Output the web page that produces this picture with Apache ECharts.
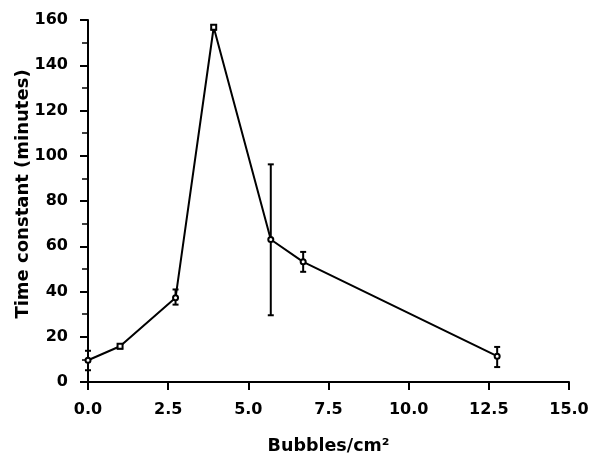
<!DOCTYPE html>
<html>
<head>
<meta charset="utf-8">
<script src="https://cdn.jsdelivr.net/npm/echarts@6/dist/echarts.min.js"></script>
<style>html,body{margin:0;padding:0;background:#fff}#c{width:590px;height:455px}</style>
</head>
<body>
<div id="c"></div>
<script>
var xValues = [0, 1.0, 2.73, 3.92, 5.70, 6.71, 12.76];
var yValues = [9.6, 15.8, 37.2, 156.8, 63, 53.1, 11.4];
var errLow  = [5.2, 14.8, 34.2, 155.8, 29.5, 48.7, 6.6];
var errHigh = [13.8, 16.8, 40.9, 157.8, 96.2, 57.5, 15.5];
var symbols = ['emptyCircle', 'emptyRect', 'emptyCircle', 'emptyRect', 'emptyCircle', 'emptyCircle', 'emptyCircle'];
var xTickLabels = ['0.0', '2.5', '5.0', '7.5', '10.0', '12.5', '15.0'];

var chart = echarts.init(document.getElementById('c'));
var lineData = xValues.map(function (x, i) {
  return { value: [x, yValues[i]], symbol: symbols[i] };
});
var errData = xValues.map(function (x, i) { return [x, errLow[i], errHigh[i]]; });
var labelFont = { fontFamily: 'DejaVu Sans', fontWeight: 'bold', fontSize: 16, color: '#000' };

chart.setOption({
  animation: false,
  backgroundColor: '#fff',
  grid: { left: 88, right: 21, top: 20, bottom: 73, containLabel: false, outerBoundsMode: 'none' },
  xAxis: {
    type: 'value', min: 0, max: 15, interval: 2.5,
    name: 'Bubbles/cm²', nameLocation: 'middle', nameGap: 55, nameMoveOverlap: false,
    nameTextStyle: { fontFamily: 'DejaVu Sans', fontWeight: 'bold', fontSize: 17.5, color: '#000' },
    axisLine: { show: true, lineStyle: { color: '#000', width: 2 } },
    axisTick: { show: true, inside: false, length: 8, lineStyle: { color: '#000', width: 2 } },
    axisLabel: Object.assign({ margin: 20, formatter: function (v) {
      var idx = Math.round(v / 2.5); return xTickLabels[idx] !== undefined ? xTickLabels[idx] : v.toFixed(1);
    } }, labelFont),
    splitLine: { show: false }
  },
  yAxis: {
    type: 'value', min: 0, max: 160, interval: 20,
    name: 'Time constant (minutes)', nameLocation: 'middle', nameGap: 56, nameMoveOverlap: false,
    nameTextStyle: { fontFamily: 'DejaVu Sans', fontWeight: 'bold', fontSize: 18, color: '#000', padding: [0, 0, 0, 14] },
    axisLine: { show: true, lineStyle: { color: '#000', width: 2 } },
    axisTick: { show: true, inside: false, length: 8, lineStyle: { color: '#000', width: 2 } },
    minorTick: { show: true, splitNumber: 2, length: 6, lineStyle: { color: '#000', width: 1.5 } },
    axisLabel: Object.assign({ margin: 20 }, labelFont),
    splitLine: { show: false }
  },
  series: [
    {
      type: 'line', data: lineData, symbolSize: 5, clip: false,
      lineStyle: { color: '#000', width: 2 },
      itemStyle: { color: '#000', borderColor: '#000', borderWidth: 1.5 },
      z: 3
    },
    {
      type: 'custom', data: errData, clip: false, z: 2,
      renderItem: function (params, api) {
        var x = api.value(0);
        var lo = api.coord([x, api.value(1)]);
        var hi = api.coord([x, api.value(2)]);
        var w = 3;
        var st = { stroke: '#000', lineWidth: 2 };
        return { type: 'group', children: [
          { type: 'line', shape: { x1: lo[0], y1: lo[1], x2: hi[0], y2: hi[1] }, style: st },
          { type: 'line', shape: { x1: lo[0] - w, y1: lo[1], x2: lo[0] + w, y2: lo[1] }, style: st },
          { type: 'line', shape: { x1: hi[0] - w, y1: hi[1], x2: hi[0] + w, y2: hi[1] }, style: st }
        ] };
      }
    }
  ]
});
</script>
</body>
</html>
